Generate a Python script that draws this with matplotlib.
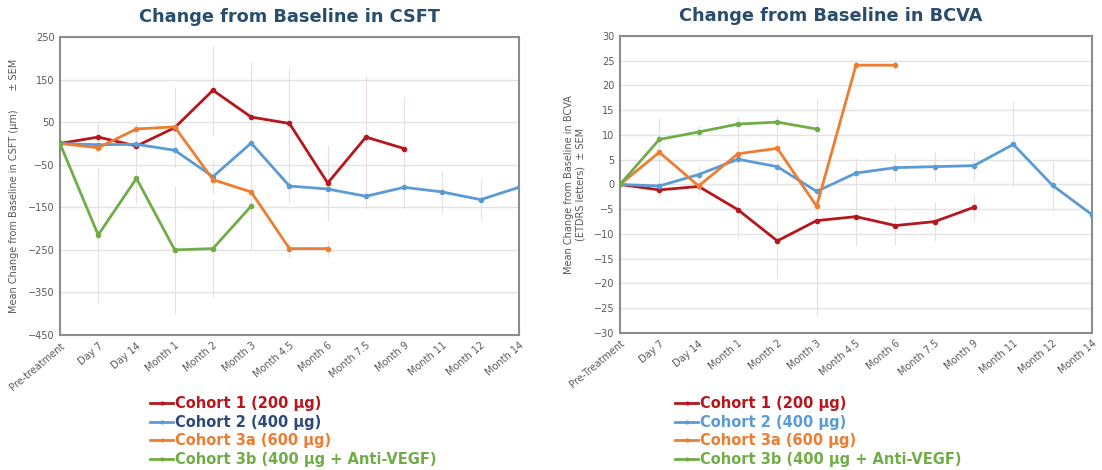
import matplotlib.pyplot as plt
from matplotlib.lines import Line2D

# categories
cats_csft = ['Pre-treatment', 'Day 7', 'Day 14', 'Month 1', 'Month 2', 'Month 3', 'Month 4.5',
             'Month 6', 'Month 7.5', 'Month 9', 'Month 11', 'Month 12', 'Month 14']
cats_bcva = ['Pre-Treatment'] + cats_csft[1:]

labels = ['Cohort 1 (200 µg)', 'Cohort 2 (400 µg)', 'Cohort 3a (600 µg)',
          'Cohort 3b (400 µg + Anti-VEGF)']
colors = ['#b5171d', '#5b9bd5', '#ed7d31', '#70ad47']

# CSFT change (µm)
csft_c1 = [0, 15, -6, 37, 125, 62, 47, -93, 15, -12]
csft_c2 = [0, -3, -2, -16, -78, 1, -100, -107, -124, -103, -114, -132, -103]
csft_c3a = [0, -10, 34, 39, -85, -114, -247, -247]
csft_c3b = [0, -215, -82, -250, -247, -147]
csft_sem_c1 = [0, 35, 30, 95, 105, 130, 130, 90, 145, 120]
csft_sem_c2 = [0, 10, 10, 40, 40, 40, 40, 40, 30, 50, 50, 50, 60]
csft_sem_c3a = [0, 10, 15, 20, 30, 30, 20, 20]
csft_sem_c3b = [0, 157, 60, 150, 113, 100]

# BCVA change (ETDRS letters)
bcva_c1 = [0, -1.1, -0.4, -5.1, -11.4, -7.3, -6.5, -8.3, -7.5, -4.6]
bcva_c2 = [0, -0.3, 2.0, 5.1, 3.6, -1.4, 2.3, 3.4, 3.6, 3.8, 8.1, -0.2, -6.1]
bcva_c3a = [0, 6.5, -0.3, 6.2, 7.3, -4.4, 24.1, 24.1]
bcva_c3b = [0, 9.1, 10.6, 12.2, 12.6, 11.2]
bcva_sem_c1 = [0, 1.5, 1.5, 5.5, 7.5, 19, 6, 4, 4, 2.5]
bcva_sem_c2 = [0, 2, 2, 5, 4, 3, 3, 3, 3, 3, 8.7, 5, 3]
bcva_sem_c3a = [0, 7, 1, 5, 5, 21.7, 1, 1]
bcva_sem_c3b = [0, 4, 1.5, 1.5, 1.5, 1.5]

fig = plt.figure(figsize=(11.02, 4.70), dpi=100)
ax1 = fig.add_axes([0.0544, 0.2872, 0.4165, 0.634])
ax2 = fig.add_axes([0.5626, 0.2915, 0.4283, 0.632])

title_color = '#2a4d6e'
tick_color = '#595959'


def draw(ax, cats, series, sems, ylim, yticks, title, title_x, ylabel):
    for vals, sem, col in zip(series, sems, colors):
        x = range(len(vals))
        ax.errorbar(x, vals, yerr=sem, fmt='none', ecolor='#eadede', elinewidth=0.8,
                    capsize=0, zorder=1)
        ax.plot(x, vals, color=col, lw=2, marker='o', ms=3, zorder=3)
    ax.set_xlim(0, len(cats) - 1)
    ax.set_ylim(*ylim)
    ax.set_yticks(yticks)
    ax.set_xticks(range(len(cats)))
    ax.set_xticklabels(cats, rotation=40, ha='right', rotation_mode='anchor')
    ax.tick_params(axis='both', length=0, labelsize=7, colors=tick_color, pad=4)
    ax.grid(axis='y', color='#e3e3e3', lw=1)
    ax.set_axisbelow(True)
    for s in ax.spines.values():
        s.set_color('#8c8c8c')
        s.set_linewidth(1.5)
    ax.set_title(title, fontsize=12.8, fontweight='bold', color=title_color, pad=11,
                 x=title_x)
    ax.set_ylabel(ylabel, fontsize=7, color=tick_color, labelpad=6)


draw(ax1, cats_csft, [csft_c1, csft_c2, csft_c3a, csft_c3b],
     [csft_sem_c1, csft_sem_c2, csft_sem_c3a, csft_sem_c3b],
     (-450, 250), range(250, -451, -100), 'Change from Baseline in CSFT', 0.5,
     'Mean Change from Baseline in CSFT (µm)      ± SEM')
draw(ax2, cats_bcva, [bcva_c1, bcva_c2, bcva_c3a, bcva_c3b],
     [bcva_sem_c1, bcva_sem_c2, bcva_sem_c3a, bcva_sem_c3b],
     (-30, 30), range(30, -31, -5), 'Change from Baseline in BCVA', 0.447,
     'Mean Change from Baseline in BCVA\n(ETDRS letters)  ± SEM')

handles = [Line2D([], [], color=c, lw=2, marker='o', ms=2) for c in colors]
text_left = ['#b5171d', '#2e4a7a', '#ed7d31', '#70ad47']
text_right = ['#b5171d', '#5b9bd5', '#ed7d31', '#70ad47']
for x0, tcols in [(150 / 1102, text_left), (675 / 1102, text_right)]:
    leg = fig.legend(handles, labels, loc='upper left', bbox_to_anchor=(x0, 1 - 396 / 470),
                     frameon=False, fontsize=10.5, handlelength=1.6, handletextpad=0.1,
                     labelspacing=0.25, borderaxespad=0, borderpad=0)
    for t, c in zip(leg.get_texts(), tcols):
        t.set_color(c)
        t.set_fontweight('bold')

fig.savefig('out.png', dpi=100, facecolor='white')
